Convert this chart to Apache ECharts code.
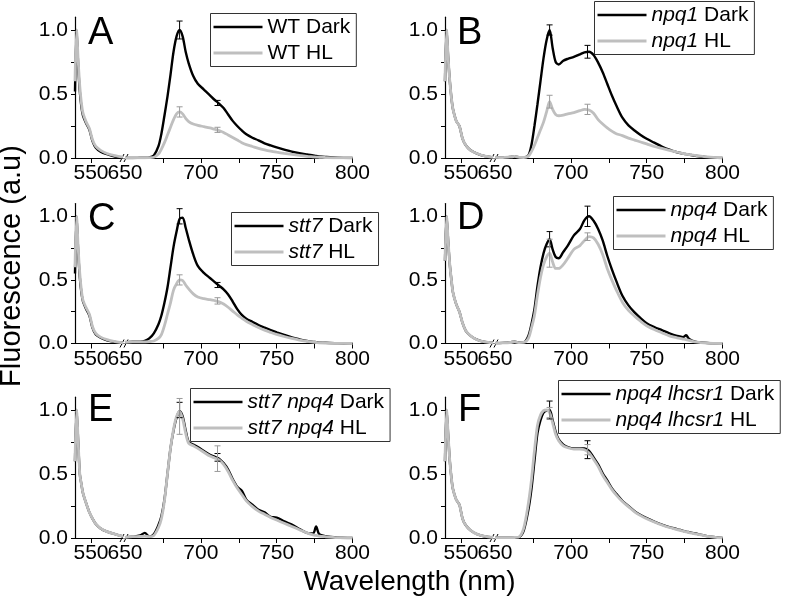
<!DOCTYPE html>
<html><head><meta charset="utf-8">
<script src="https://cdn.jsdelivr.net/npm/echarts@6/dist/echarts.min.js"></script>
<style>html,body{margin:0;padding:0;background:#fff}#c{width:786px;height:601px}</style>
</head><body><div id="c"></div>
<script>
// ---------------- DATA ----------------
const wlLeft = [540, 541, 542, 543, 544, 545, 547, 549, 551, 553, 556, 560, 565, 570];
const wlRight = [650, 655, 660, 663, 666, 669, 672, 674, 676, 678, 680, 682, 684, 686, 688, 690,
  692, 695, 698, 702, 706, 709, 712, 715, 718, 721, 724, 727, 730, 734, 738, 742, 746, 750, 755, 760,
  765, 770, 774, 776, 778, 782, 790, 800];
const xLeftTicks = [550];
const xRightLabels = [650, 700, 750, 800];
const xRightTicks = [675, 700, 725, 750, 775, 800];
const yTicks = [0, 0.25, 0.5, 0.75, 1.0];
const yLabels = [0, 0.5, 1.0];

// Panel A: WT
const aDarkL = [0.52, 1.0, 0.72, 0.52, 0.4, 0.33, 0.27, 0.22, 0.13, 0.08, 0.05, 0.03, 0.012, 0.003];
const aHlL   = [0.6, 1.0, 0.76, 0.56, 0.43, 0.35, 0.28, 0.23, 0.14, 0.09, 0.06, 0.035, 0.018, 0.006];
const aDarkR = [0, 0, 0.002, 0.003, 0.005, 0.02,
  0.09, 0.19, 0.33, 0.48, 0.65, 0.83, 0.95, 1.0, 0.95, 0.83,
  0.74, 0.64, 0.58, 0.535, 0.49, 0.455, 0.425, 0.39, 0.34, 0.29,
  0.25, 0.215, 0.185, 0.158, 0.138, 0.115, 0.098, 0.083, 0.066, 0.05,
  0.037, 0.027, 0.02, 0.016, 0.013, 0.009, 0.003, 0];
const aHlR = [0, 0, 0.002, 0.002, 0.003, 0.006,
  0.03, 0.07, 0.12, 0.18, 0.24, 0.3, 0.345, 0.36, 0.345, 0.31,
  0.285, 0.265, 0.255, 0.245, 0.235, 0.225, 0.215, 0.2, 0.18, 0.16,
  0.14, 0.12, 0.105, 0.09, 0.075, 0.063, 0.053, 0.045, 0.036, 0.028,
  0.02, 0.013, 0.009, 0.007, 0.006, 0.004, 0.001, 0];
const aErrDark = [[686, 1.0, 0.07], [711, 0.43, 0.02]];
const aErrHl = [[686, 0.36, 0.04], [711, 0.22, 0.02]];

// Panel B: npq1
const bDarkL = [0.6, 1.0, 0.78, 0.6, 0.47, 0.38, 0.29, 0.25, 0.15, 0.1, 0.06, 0.035, 0.015, 0.005];
const bHlL   = [0.6, 1.0, 0.78, 0.6, 0.47, 0.38, 0.29, 0.25, 0.15, 0.1, 0.06, 0.035, 0.015, 0.005];
const bDarkR = [0.005, 0.003, 0.008, 0.012, 0.005, 0.004,
  0.02, 0.1, 0.25, 0.42, 0.6, 0.78, 0.92, 1.0, 0.86, 0.75,
  0.73, 0.76, 0.775, 0.79, 0.81, 0.825, 0.83, 0.805, 0.745, 0.67,
  0.58, 0.49, 0.41, 0.315, 0.255, 0.215, 0.18, 0.15, 0.12, 0.09,
  0.065, 0.045, 0.034, 0.03, 0.026, 0.018, 0.007, 0];
const bHlR = [0.005, 0.003, 0.008, 0.012, 0.005, 0.004,
  0.015, 0.05, 0.1, 0.16, 0.22, 0.28, 0.36, 0.44, 0.38, 0.34,
  0.33, 0.335, 0.345, 0.355, 0.37, 0.38, 0.375, 0.35, 0.3, 0.265,
  0.235, 0.21, 0.19, 0.175, 0.155, 0.14, 0.125, 0.11, 0.09, 0.075,
  0.06, 0.045, 0.035, 0.03, 0.026, 0.02, 0.008, 0];
const bErrDark = [[686, 1.0, 0.04], [711, 0.83, 0.05]];
const bErrHl = [[686, 0.44, 0.05], [711, 0.38, 0.04]];

// Panel C: stt7
const cDarkL = [0.55, 1.0, 0.72, 0.52, 0.4, 0.33, 0.27, 0.22, 0.12, 0.07, 0.045, 0.025, 0.012, 0.004];
const cHlL   = [0.6, 1.0, 0.75, 0.55, 0.42, 0.34, 0.28, 0.23, 0.13, 0.08, 0.05, 0.03, 0.015, 0.005];
const cDarkR = [0.01, 0.015, 0.015, 0.02, 0.04, 0.08,
  0.15, 0.22, 0.32, 0.44, 0.6, 0.76, 0.88, 0.98, 0.99, 0.91,
  0.82, 0.7, 0.61, 0.555, 0.515, 0.485, 0.455, 0.425, 0.385, 0.33,
  0.27, 0.225, 0.195, 0.17, 0.145, 0.125, 0.105, 0.088, 0.068, 0.048,
  0.033, 0.02, 0.013, 0.011, 0.009, 0.006, 0.002, 0];
const cHlR = [0.01, 0.012, 0.012, 0.013, 0.015, 0.02,
  0.04, 0.07, 0.14, 0.23, 0.32, 0.42, 0.47, 0.5, 0.495, 0.46,
  0.43, 0.39, 0.365, 0.352, 0.345, 0.338, 0.328, 0.31, 0.285, 0.255,
  0.225, 0.2, 0.175, 0.15, 0.125, 0.105, 0.088, 0.072, 0.055, 0.04,
  0.027, 0.016, 0.01, 0.008, 0.006, 0.004, 0.001, 0];
const cErrDark = [[686, 1.0, 0.06], [711, 0.46, 0.02]];
const cErrHl = [[686, 0.5, 0.04], [711, 0.335, 0.025]];

// Panel D: npq4
const dDarkL = [0.65, 1.0, 0.8, 0.62, 0.5, 0.4, 0.31, 0.25, 0.16, 0.1, 0.06, 0.03, 0.012, 0.004];
const dHlL   = [0.65, 1.0, 0.8, 0.62, 0.5, 0.4, 0.31, 0.25, 0.16, 0.1, 0.06, 0.03, 0.012, 0.004];
const dDarkR = [0.003, 0.005, 0.01, 0.015, 0.008, 0.01,
  0.06, 0.15, 0.27, 0.45, 0.6, 0.71, 0.78, 0.82, 0.74, 0.68,
  0.67, 0.72, 0.77, 0.85, 0.9, 0.97, 1.0, 0.965, 0.9, 0.81,
  0.69, 0.585, 0.49, 0.375, 0.3, 0.245, 0.2, 0.16, 0.13, 0.105,
  0.08, 0.06, 0.05, 0.065, 0.035, 0.015, 0.004, 0];
const dHlR = [0.003, 0.005, 0.008, 0.012, 0.007, 0.008,
  0.04, 0.12, 0.22, 0.38, 0.52, 0.62, 0.68, 0.71, 0.64, 0.59,
  0.59, 0.62, 0.67, 0.74, 0.77, 0.81, 0.84, 0.83, 0.78, 0.7,
  0.59, 0.5, 0.42, 0.325, 0.26, 0.215, 0.175, 0.14, 0.11, 0.085,
  0.06, 0.045, 0.035, 0.03, 0.024, 0.012, 0.003, 0];
const dErrDark = [[686, 0.82, 0.06], [711, 1.0, 0.08]];
const dErrHl = [[686, 0.71, 0.11], [711, 0.84, 0.03]];

// Panel E: stt7 npq4
const eDarkL = [0.6, 1.0, 0.75, 0.5, 0.42, 0.35, 0.27, 0.2, 0.15, 0.11, 0.075, 0.05, 0.03, 0.012];
const eHlL   = [0.6, 1.0, 0.75, 0.5, 0.42, 0.35, 0.27, 0.2, 0.15, 0.11, 0.075, 0.05, 0.03, 0.012];
const eDarkR = [0.005, 0.01, 0.02, 0.04, 0.01, 0.03,
  0.1, 0.17, 0.3, 0.5, 0.7, 0.84, 0.94, 0.99, 0.95, 0.84,
  0.75, 0.73, 0.71, 0.68, 0.65, 0.635, 0.62, 0.585, 0.535, 0.46,
  0.4, 0.37, 0.3, 0.26, 0.22, 0.2, 0.165, 0.16, 0.13, 0.105,
  0.07, 0.04, 0.035, 0.09, 0.03, 0.015, 0.004, 0];
const eHlR = [0.005, 0.01, 0.012, 0.015, 0.01, 0.02,
  0.08, 0.15, 0.29, 0.5, 0.7, 0.85, 0.95, 0.99, 0.93, 0.82,
  0.74, 0.72, 0.7, 0.67, 0.64, 0.625, 0.61, 0.575, 0.52, 0.45,
  0.39, 0.34, 0.29, 0.245, 0.21, 0.185, 0.16, 0.14, 0.115, 0.09,
  0.065, 0.04, 0.025, 0.02, 0.015, 0.01, 0.003, 0];
const eErrDark = [[686, 1.0, 0.06], [711, 0.63, 0.03]];
const eErrHl = [[686, 0.95, 0.14], [711, 0.62, 0.1]];

// Panel F: npq4 lhcsr1
const fDarkL = [0.6, 1.0, 0.8, 0.6, 0.47, 0.38, 0.3, 0.26, 0.15, 0.1, 0.06, 0.03, 0.012, 0.004];
const fHlL   = [0.6, 1.0, 0.8, 0.6, 0.47, 0.38, 0.3, 0.26, 0.15, 0.1, 0.06, 0.03, 0.012, 0.004];
const fDarkR = [0.003, 0.003, 0.003, 0.004, 0.008, 0.06,
  0.22, 0.38, 0.6, 0.82, 0.92, 0.98, 0.995, 1.0, 0.92, 0.83,
  0.77, 0.73, 0.71, 0.7, 0.7, 0.7, 0.68, 0.63, 0.575, 0.505,
  0.45, 0.39, 0.345, 0.29, 0.25, 0.21, 0.18, 0.155, 0.128, 0.105,
  0.085, 0.07, 0.056, 0.05, 0.045, 0.035, 0.015, 0];
const fHlR = [0.003, 0.003, 0.003, 0.004, 0.01, 0.08,
  0.27, 0.45, 0.68, 0.88, 0.96, 0.995, 1.0, 0.98, 0.9, 0.81,
  0.76, 0.72, 0.705, 0.695, 0.695, 0.69, 0.665, 0.615, 0.56, 0.49,
  0.435, 0.38, 0.335, 0.285, 0.245, 0.205, 0.175, 0.15, 0.125, 0.102,
  0.082, 0.066, 0.053, 0.047, 0.042, 0.033, 0.013, 0];
const fErrDark = [[686, 1.0, 0.07], [711, 0.69, 0.07]];
const fErrHl = [[686, 0.98, 0.04], [711, 0.69, 0.04]];

const panelLetters = ['A', 'B', 'C', 'D', 'E', 'F'];
const genotypes = ['WT', 'npq1', 'stt7', 'npq4', 'stt7 npq4', 'npq4 lhcsr1'];
const conditions = ['Dark', 'HL'];

// ---------------- LAYOUT / STYLE ----------------
const FONT = '"Liberation Sans", Arial, Helvetica, sans-serif';
const DARK = '#000000', LIGHT = '#bfbfbf';
const cols = [75, 445];
const rows = [[17.2, 158], [203.6, 343.5], [397.2, 538]];
const LW = 48, GAP = 2, RW = 227.5;
const legendPos = [[210, 12.5], [594, 0.5], [231, 211.5], [613, 195.8], [190, 388.2], [558, 379.8]];
const letterPos = [[88, 33.5], [457, 33.5], [88, 220], [457, 218.5], [88, 410.5], [458, 410.5]];

const panelData = [
  [aDarkL, aDarkR, aHlL, aHlR, aErrDark, aErrHl],
  [bDarkL, bDarkR, bHlL, bHlR, bErrDark, bErrHl],
  [cDarkL, cDarkR, cHlL, cHlR, cErrDark, cErrHl],
  [dDarkL, dDarkR, dHlL, dHlR, dErrDark, dErrHl],
  [eDarkL, eDarkR, eHlL, eHlR, eErrDark, eErrHl],
  [fDarkL, fDarkR, fHlL, fHlR, fErrDark, fErrHl]
];

const zip = (xs, ys) => xs.map((x, i) => [x, ys[i]]);
const measureCtx = document.createElement('canvas').getContext('2d');
function textWidth(txt, italic) {
  measureCtx.font = (italic ? 'italic ' : '') + 'normal 21px ' + FONT;
  return measureCtx.measureText(txt).width;
}

const grid = [], xAxis = [], yAxis = [], series = [], graphic = [];

function errSeries(idx, errs, color) {
  return {
    type: 'custom', xAxisIndex: idx, yAxisIndex: idx, silent: true, z: 5,
    data: errs.map(e => [e[0], e[1] - e[2], e[1] + e[2]]),
    encode: { x: 0, y: [1, 2] },
    renderItem: (params, api) => {
      const x = api.value(0);
      const p1 = api.coord([x, api.value(1)]);
      const p2 = api.coord([x, api.value(2)]);
      const c = 3;
      const st = { stroke: color, lineWidth: 1 };
      return { type: 'group', children: [
        { type: 'line', shape: { x1: p1[0], y1: p1[1], x2: p2[0], y2: p2[1] }, style: st },
        { type: 'line', shape: { x1: p1[0] - c, y1: p1[1], x2: p1[0] + c, y2: p1[1] }, style: st },
        { type: 'line', shape: { x1: p2[0] - c, y1: p2[1], x2: p2[0] + c, y2: p2[1] }, style: st }
      ]};
    }
  };
}

const axisLineStyle = { show: true, lineStyle: { color: '#000', width: 1.2 } };
const labelStyle = { color: '#000', fontSize: 21, fontFamily: FONT };

panelLetters.forEach((letter, p) => {
  const x0 = cols[p % 2];
  const [top, bottom] = rows[Math.floor(p / 2)];
  const h = bottom - top;
  const li = 2 * p, ri = 2 * p + 1;
  grid.push({ left: x0, top: top, width: LW, height: h });
  grid.push({ left: x0 + LW + GAP, top: top, width: RW, height: h });

  xAxis.push({ type: 'value', gridIndex: li, min: 540, max: 570,
    axisLine: axisLineStyle, splitLine: { show: false },
    axisTick: { show: true, inside: false, length: 5, customValues: xLeftTicks, lineStyle: { color: '#000' } },
    axisLabel: Object.assign({ margin: 5, customValues: xLeftTicks }, labelStyle) });
  xAxis.push({ type: 'value', gridIndex: ri, min: 650, max: 800,
    axisLine: axisLineStyle, splitLine: { show: false },
    axisTick: { show: true, inside: false, length: 5, customValues: xRightTicks, lineStyle: { color: '#000' } },
    axisLabel: Object.assign({ margin: 5, customValues: xRightLabels }, labelStyle) });

  yAxis.push({ type: 'value', gridIndex: li, min: 0, max: 1.1,
    axisLine: axisLineStyle, splitLine: { show: false },
    axisTick: { show: true, inside: false, length: 4, customValues: yTicks, lineStyle: { color: '#000' } },
    axisLabel: Object.assign({ margin: 7, customValues: yLabels, formatter: v => v.toFixed(1) }, labelStyle) });
  yAxis.push({ type: 'value', gridIndex: ri, min: 0, max: 1.1, show: false, splitLine: { show: false } });

  const [dL, dR, hL, hR, eD, eH] = panelData[p];
  const g = genotypes[p];
  const darkName = g + ' ' + conditions[0];
  const hlName = g + ' ' + conditions[1];
  const mk = (name, idx, xs, ys, color, width, z) => ({
    type: 'line', name, xAxisIndex: idx, yAxisIndex: idx, data: zip(xs, ys),
    symbol: 'none', smooth: 0.3, z,
    lineStyle: { color, width }, itemStyle: { color }, emphasis: { disabled: true }, silent: true
  });
  series.push(mk(darkName, li, wlLeft, dL, DARK, 2.4, 2));
  series.push(mk(darkName, ri, wlRight, dR, DARK, 2.4, 2));
  series.push(mk(hlName, li, wlLeft, hL, LIGHT, 2.8, 3));
  series.push(mk(hlName, ri, wlRight, hR, LIGHT, 2.8, 3));
  series.push(errSeries(ri, eD, '#000'));
  series.push(errSeries(ri, eH, '#9a9a9a'));

  // legend box (drawn as graphic so the genotype can be italic)
  const italic = g !== 'WT';
  const [lx, ly] = legendPos[p];
  const padT = 3, padL = 3, padR = 6, rowH = 21, rowGap = 5, iconW = 49, textGap = 5;
  const items = [[conditions[0], DARK, 2.6], [conditions[1], LIGHT, 3]];
  const widths = items.map(it => textWidth(g, italic) + textWidth(' ' + it[0], false));
  const boxW = padL + iconW + textGap + Math.max.apply(null, widths) + padR;
  const boxH = padT * 2 + rowH * 2 + rowGap;
  const children = [{ type: 'rect', shape: { x: 0, y: 0, width: boxW, height: boxH },
    style: { fill: '#fff', stroke: '#333', lineWidth: 1 } }];
  items.forEach((it, k) => {
    const cy = padT + rowH / 2 + k * (rowH + rowGap);
    children.push({ type: 'line', shape: { x1: padL, y1: cy, x2: padL + iconW, y2: cy },
      style: { stroke: it[1], lineWidth: it[2] } });
    const tx = padL + iconW + textGap;
    const gw = textWidth(g, italic);
    children.push({ type: 'text', x: tx, y: cy, style: { text: g, font: (italic ? 'italic ' : '') + 'normal 21px ' + FONT,
      fill: '#000', align: 'left', verticalAlign: 'middle' } });
    children.push({ type: 'text', x: tx + gw, y: cy, style: { text: ' ' + it[0], font: 'normal normal 21px ' + FONT,
      fill: '#000', align: 'left', verticalAlign: 'middle' } });
  });
  graphic.push({ type: 'group', x: Math.round(lx) + 0.5, y: Math.round(ly) + 0.5, z: 50, silent: true, children });

  graphic.push({ type: 'text', x: letterPos[p][0], y: letterPos[p][1], silent: true,
    style: { text: letter, fontSize: 38, fontFamily: FONT, fill: '#000', align: 'left', verticalAlign: 'middle' } });

  // axis break marks
  const bx = x0 + LW + GAP / 2;
  graphic.push({ type: 'line', silent: true, shape: { x1: bx - 4, y1: bottom + 4, x2: bx, y2: bottom - 4 },
    style: { stroke: '#000', lineWidth: 1 } });
  graphic.push({ type: 'line', silent: true, shape: { x1: bx, y1: bottom + 4, x2: bx + 4, y2: bottom - 4 },
    style: { stroke: '#000', lineWidth: 1 } });
});

graphic.push({ type: 'text', x: 409.5, y: 582, silent: true,
  style: { text: 'Wavelength (nm)', fontSize: 28, fontFamily: FONT, fill: '#000', align: 'center', verticalAlign: 'middle' } });
graphic.push({ type: 'text', x: 12, y: 266, rotation: Math.PI / 2, silent: true,
  style: { text: 'Fluorescence (a.u)', fontSize: 29, fontFamily: FONT, fill: '#000', align: 'center', verticalAlign: 'middle' } });

const chart = echarts.init(document.getElementById('c'), null, { renderer: 'canvas', width: 786, height: 601 });
chart.setOption({
  animation: false, backgroundColor: '#fff',
  grid, xAxis, yAxis, series, graphic
});
</script></body></html>
